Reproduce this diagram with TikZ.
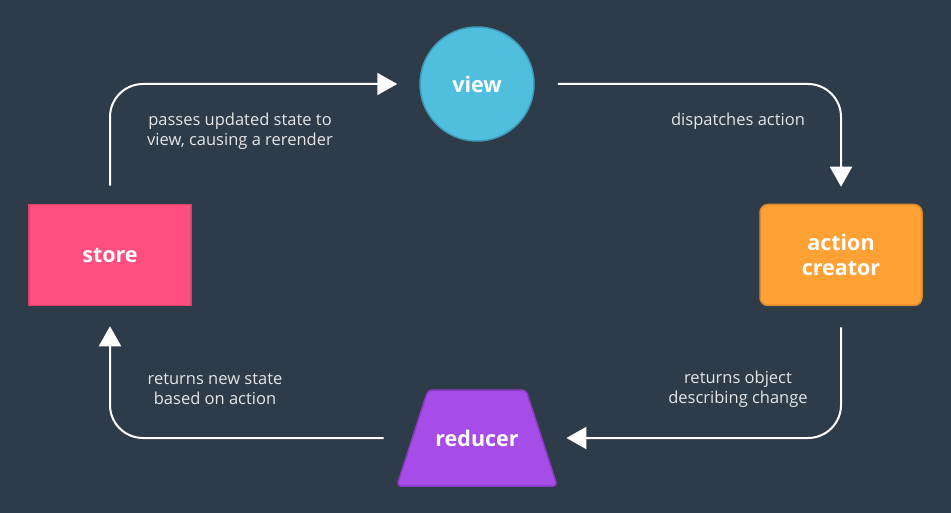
\documentclass[tikz,border=0pt]{standalone}
\usepackage{fontspec}
\setmainfont{Open Sans}
\usetikzlibrary{arrows.meta,shapes.geometric}
\definecolor{bg}{HTML}{2E3B48}
\definecolor{storefill}{HTML}{FF4F7E}
\definecolor{storeline}{HTML}{D9436E}
\definecolor{viewfill}{HTML}{50BFDD}
\definecolor{viewline}{HTML}{3D9DB9}
\definecolor{acfill}{HTML}{FFA135}
\definecolor{acline}{HTML}{D98A2E}
\definecolor{redfill}{HTML}{A64CE8}
\definecolor{redline}{HTML}{8A3DC4}
\definecolor{labelgray}{HTML}{E4E6E8}
\begin{document}
\begin{tikzpicture}[x=1pt,y=-1pt,
  flow/.style={draw=white, line width=2pt, rounded corners=33pt, -{Triangle[length=20pt,width=22pt]}},
  lbl/.style={text=labelgray, font=\fontsize{16.5}{20}\selectfont, align=center},
  nodetxt/.style={text=white, font=\bfseries\fontsize{21.5}{25.5}\selectfont, align=center, line width=1.5pt, inner sep=0pt}]
\fill[bg] (0,0) rectangle (951,513);
\useasboundingbox (0,0) rectangle (951,513);
\node[nodetxt, rectangle, fill=storefill, draw=storeline, minimum width=162pt, minimum height=101pt] (store) at (110,255) {store};
\node[nodetxt, circle, fill=viewfill, draw=viewline, minimum size=114pt] (view) at (477,84) {view};
\node[nodetxt, rectangle, rounded corners=8pt, fill=acfill, draw=acline, minimum width=162pt, minimum height=101pt] (ac) at (841,255) {action\\creator};
\node[text=white, font=\bfseries\fontsize{21.5}{25.5}\selectfont, line width=1.5pt, inner sep=0pt, trapezium, trapezium left angle=72, trapezium right angle=72, rounded corners=4pt, fill=redfill, draw=redline] (reducer) at (477,438) {\parbox[c][96pt][c]{98pt}{\centering reducer}};
\draw[flow, shorten <=18pt, shorten >=22pt] (store.north) |- (view.west);
\draw[flow, shorten <=23pt, shorten >=17pt] (view.east) -| (ac.north);
\draw[flow, shorten <=21pt, shorten >=24pt] (ac.south) |- (reducer.east);
\draw[flow, shorten <=28pt, shorten >=20pt] (reducer.west) -| (store.south);
\node[lbl] (l1) at (240,131) {passes updated state to\\view, causing a rerender};
\node[lbl] (l2) at (738,121) {dispatches action};
\node[lbl] (l3) at (215,389) {returns new state\\based on action};
\node[lbl] (l4) at (738,389) {returns object\\describing change};
\end{tikzpicture}
\end{document}
